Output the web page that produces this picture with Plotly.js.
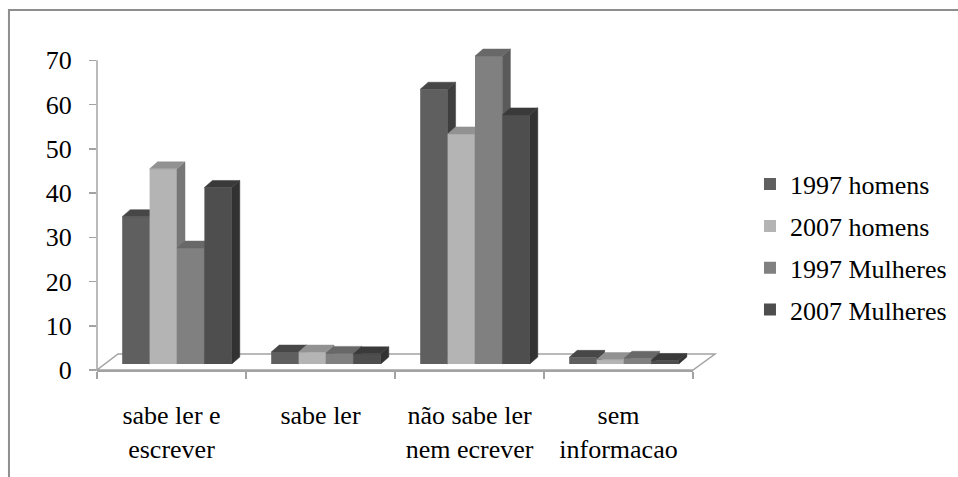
<!DOCTYPE html>
<html>
<head>
<meta charset="utf-8">
<script src="https://cdn.plot.ly/plotly-3.0.1.min.js"></script>
<style>
  html, body { margin: 0; padding: 0; background: #fff; }
  #chart { width: 958px; height: 477px; }
</style>
</head>
<body>
<div id="chart"></div>
<script>
// Literacy by sex, 1997 vs 2007 (percent)
const categories = ['sabe ler e<br>escrever', 'sabe ler', 'não sabe ler<br>nem ecrever', 'sem<br>informacao'];
const seriesNames = ['1997 homens', '2007 homens', '1997 Mulheres', '2007 Mulheres'];
const homens1997 = [33.3, 2.7, 62.1, 1.5];
const homens2007 = [44.1, 2.7, 52.0, 1.0];
const mulheres1997 = [26.2, 2.4, 69.6, 1.3];
const mulheres2007 = [39.9, 2.3, 56.3, 0.8];
const yTicks = [0, 10, 20, 30, 40, 50, 60, 70];

const seriesValues = [homens1997, homens2007, mulheres1997, mulheres2007];

// front / top / side shading of each box
const shades = [
  { front: '#5f5f5f', top: '#474747', side: '#3e3e3e' },
  { front: '#b4b4b4', top: '#929292', side: '#777777' },
  { front: '#808080', top: '#686868', side: '#5a5a5a' },
  { front: '#4e4e4e', top: '#3a3a3a', side: '#323232' }
];

// plot-area geometry (px) used to express the 3-D depth in axis units
const plotW = 596, plotH = 323;
const xSpan = 4, yMax = 73;
const pxPerCat = plotW / xSpan;
const pxPerUnit = plotH / yMax;
const barW = 27.4 / pxPerCat;          // width of one box
const depthX = 8 / pxPerCat;           // box depth, horizontal
const depthY = 7 / pxPerUnit;          // box depth, vertical
const shiftX = 5.5 / pxPerCat;         // boxes stand a little behind the front plane
const shiftY = 6 / pxPerUnit;

const serif = 'Liberation Serif, Times New Roman, serif';
const traces = [];

// keeps the front-plane axes alive
traces.push({ type: 'scatter', x: [], y: [], xaxis: 'x', yaxis: 'y', showlegend: false, hoverinfo: 'skip' });

seriesValues.forEach((vals, i) => {
  const k = i + 2;
  const offset = -2 * barW + i * barW;
  const topX = [], topY = [], sideX = [], sideY = [];
  vals.forEach((v, j) => {
    const xl = j + offset, xr = xl + barW;
    topX.push(xl, xr, xr + depthX, xl + depthX, xl, null);
    topY.push(v, v, v + depthY, v + depthY, v, null);
    sideX.push(xr, xr, xr + depthX, xr + depthX, xr, null);
    sideY.push(0, v, v + depthY, depthY, 0, null);
  });
  traces.push({
    type: 'bar', name: seriesNames[i], legendgroup: 'g' + i,
    x: [0, 1, 2, 3], y: vals, width: barW, offset: offset,
    xaxis: 'x' + k, yaxis: 'y' + k,
    marker: { color: shades[i].front, line: { width: 0 } },
    hoverinfo: 'name+y'
  });
  traces.push({
    type: 'scatter', mode: 'lines', x: sideX, y: sideY, fill: 'toself',
    fillcolor: shades[i].side, line: { width: 0.5, color: shades[i].side },
    xaxis: 'x' + k, yaxis: 'y' + k, showlegend: false, legendgroup: 'g' + i, hoverinfo: 'skip'
  });
  traces.push({
    type: 'scatter', mode: 'lines', x: topX, y: topY, fill: 'toself',
    fillcolor: shades[i].top, line: { width: 0.5, color: shades[i].top },
    xaxis: 'x' + k, yaxis: 'y' + k, showlegend: false, legendgroup: 'g' + i, hoverinfo: 'skip'
  });
});

const axisGrey = '#a3a3a3';
const layout = {
  width: 958, height: 477,
  margin: { l: 97, r: 265, t: 47, b: 107, pad: 0, autoexpand: false },
  paper_bgcolor: '#ffffff',
  plot_bgcolor: 'rgba(0,0,0,0)',
  font: { family: serif, size: 26, color: '#000' },
  showlegend: true,
  legend: {
    x: 1.0956, xanchor: 'left', y: 0.648, yanchor: 'top',
    font: { family: serif, size: 26, color: '#000' },
    traceorder: 'grouped', tracegroupgap: 5,
    bgcolor: 'rgba(0,0,0,0)', borderwidth: 0, itemclick: false, itemdoubleclick: false
  },
  xaxis: {
    range: [-0.5, 3.5], tickmode: 'array', tickvals: [0, 1, 2, 3], ticktext: categories,
    ticks: '', ticklabelstandoff: 21,
    showline: true, linecolor: axisGrey, linewidth: 1.5,
    showgrid: false, zeroline: false, fixedrange: true,
    tickfont: { family: serif, size: 26, color: '#000' },
    minor: { tickmode: 'array', tickvals: [-0.5, 0.5, 1.5, 2.5, 3.5], ticks: 'outside', ticklen: 7, tickwidth: 1.5, tickcolor: axisGrey, showgrid: false }
  },
  yaxis: {
    range: [0, yMax], tickmode: 'array', tickvals: yTicks,
    ticks: 'outside', ticklen: 7, tickwidth: 1.5, tickcolor: axisGrey,
    ticklabelstandoff: 12,
    showline: false, showgrid: false, zeroline: false, fixedrange: true,
    tickfont: { family: serif, size: 26, color: '#000' }
  },
  shapes: [
    // outer chart frame
    { type: 'rect', xref: 'paper', yref: 'paper', x0: -0.1477, x1: 1.46, y0: -0.36, y1: 1.1146,
      line: { color: '#8e8e8e', width: 2 }, fillcolor: 'rgba(0,0,0,0)', layer: 'below' },
    // floor of the 3-D box
    { type: 'path', xref: 'paper', yref: 'paper',
      path: 'M0,0 L1,0 L1.0369,0.0495 L0.0352,0.0495 Z',
      line: { color: axisGrey, width: 1.5 }, fillcolor: 'rgba(0,0,0,0)', layer: 'below' },
    // value axis line
    { type: 'line', xref: 'paper', yref: 'paper', x0: 0, x1: 0, y0: 0, y1: 70 / yMax,
      line: { color: axisGrey, width: 1.5 }, layer: 'below' }
  ]
};

for (let k = 2; k <= 5; k++) {
  layout['xaxis' + k] = { overlaying: 'x', anchor: 'y' + k, range: [-0.5 - shiftX, 3.5 - shiftX], visible: false, fixedrange: true };
  layout['yaxis' + k] = { overlaying: 'y', anchor: 'x' + k, range: [-shiftY, yMax - shiftY], visible: false, fixedrange: true };
}

Plotly.newPlot('chart', traces, layout, { staticPlot: true, displayModeBar: false });
</script>
</body>
</html>
